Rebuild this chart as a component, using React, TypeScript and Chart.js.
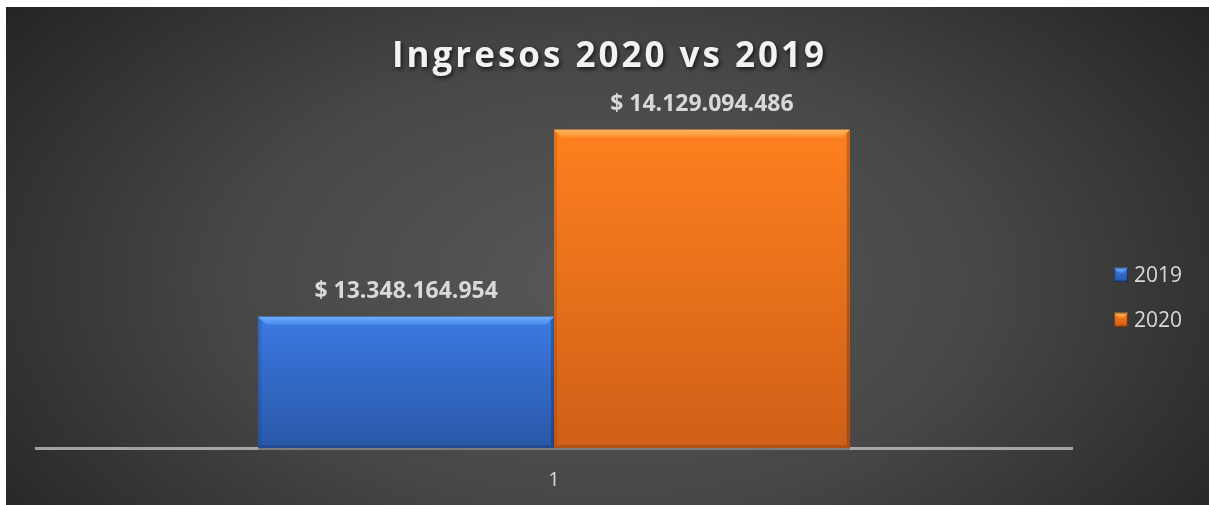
import React, { useEffect, useRef } from 'react';
import { Chart, registerables } from 'chart.js';

Chart.register(...registerables);

const categories = ['1'];
const seriesLabels = ['2019', '2020'];
const values2019 = [13348164954];
const values2020 = [14129094486];
const yMin = 12800000000;
const yMax = 14400000000;
const titleText = 'Ingresos 2020 vs 2019';

const FONT = '"Open Sans", "DejaVu Sans", sans-serif';

type Pal = { top: string; bottom: string; bevelTop: string; bevelBottom: string; solid: string };
const palettes: Pal[] = [
  { top: '#3b79e2', bottom: '#2a58a8', bevelTop: '#6cadfb', bevelBottom: '#4689ec', solid: '#3168c8' },
  { top: '#fe801f', bottom: '#cf5f17', bevelTop: '#ffb85c', bevelBottom: '#fe8c2c', solid: '#ea701c' },
];

function fmt(v: number): string {
  return '$ ' + Math.round(v).toString().replace(/\B(?=(\d{3})+(?!\d))/g, '.');
}

function drawBevelRect(ctx: CanvasRenderingContext2D, left: number, top: number, right: number, bottom: number, pal: Pal, b: number, side: number) {
  const w = right - left;
  const h = bottom - top;
  const g = ctx.createLinearGradient(0, top, 0, bottom);
  g.addColorStop(0, pal.top);
  g.addColorStop(1, pal.bottom);
  ctx.fillStyle = g;
  ctx.fillRect(left, top, w, h);
  ctx.fillStyle = 'rgba(0,0,0,0.10)';
  ctx.beginPath();
  ctx.moveTo(left, top);
  ctx.lineTo(left + side, top + side);
  ctx.lineTo(left + side, bottom - side);
  ctx.lineTo(left, bottom);
  ctx.closePath();
  ctx.fill();
  ctx.fillStyle = 'rgba(0,0,0,0.22)';
  ctx.beginPath();
  ctx.moveTo(right, top);
  ctx.lineTo(right - side, top + side);
  ctx.lineTo(right - side, bottom - side);
  ctx.lineTo(right, bottom);
  ctx.closePath();
  ctx.fill();
  ctx.fillStyle = 'rgba(0,0,0,0.14)';
  ctx.beginPath();
  ctx.moveTo(left, bottom);
  ctx.lineTo(left + side, bottom - side);
  ctx.lineTo(right - side, bottom - side);
  ctx.lineTo(right, bottom);
  ctx.closePath();
  ctx.fill();
  const gb = ctx.createLinearGradient(0, top, 0, top + b);
  gb.addColorStop(0, pal.bevelTop);
  gb.addColorStop(1, pal.bevelBottom);
  ctx.fillStyle = gb;
  ctx.beginPath();
  ctx.moveTo(left, top);
  ctx.lineTo(right, top);
  ctx.lineTo(right - b, top + b);
  ctx.lineTo(left + b, top + b);
  ctx.closePath();
  ctx.fill();
}

const backgroundPlugin = {
  id: 'bgGradient',
  beforeDraw(chart: any) {
    const { ctx, width, height } = chart;
    ctx.save();
    const cx = width * 0.5;
    const cy = height * 0.55;
    const sy = 0.6;
    ctx.translate(cx, cy);
    ctx.scale(1, sy);
    const r = width * 0.62;
    const g = ctx.createRadialGradient(0, 0, 0, 0, 0, r);
    g.addColorStop(0, '#585858');
    g.addColorStop(0.5, '#474747');
    g.addColorStop(1, '#252525');
    ctx.fillStyle = g;
    ctx.fillRect(-cx, -cy / sy, width, height / sy);
    ctx.restore();
  },
};

const barStylePlugin = {
  id: 'barStyle',
  afterDatasetsDraw(chart: any) {
    const { ctx, chartArea } = chart;
    ctx.save();
    chart.data.datasets.forEach((ds: any, di: number) => {
      const meta = chart.getDatasetMeta(di);
      const pal = palettes[di % palettes.length];
      meta.data.forEach((el: any) => {
        const { x, y, base, width } = el.getProps(['x', 'y', 'base', 'width'], true);
        const left = x - width / 2;
        const right = x + width / 2;
        const bottom = Math.min(base, chartArea.bottom);
        ctx.fillStyle = 'rgba(0,0,0,0.25)';
        ctx.fillRect(left, bottom, right - left, 2);
        drawBevelRect(ctx, left, y, right, bottom, pal, 8, 3);
      });
    });
    ctx.font = `bold 23px ${FONT}`;
    ctx.fillStyle = '#d9d9d9';
    ctx.textAlign = 'center';
    ctx.textBaseline = 'alphabetic';
    chart.data.datasets.forEach((ds: any, di: number) => {
      const meta = chart.getDatasetMeta(di);
      meta.data.forEach((el: any, i: number) => {
        const { x, y } = el.getProps(['x', 'y'], true);
        ctx.fillText(fmt(ds.data[i]), x, y - 19);
      });
    });
    ctx.restore();
  },
};

const titleLegendPlugin = {
  id: 'titleLegend',
  afterDraw(chart: any) {
    const { ctx, width, height, chartArea } = chart;
    ctx.save();
    ctx.font = `bold 35px ${FONT}`;
    (ctx as any).letterSpacing = '3px';
    ctx.textAlign = 'center';
    ctx.textBaseline = 'alphabetic';
    ctx.shadowColor = 'rgba(0,0,0,0.7)';
    ctx.shadowBlur = 4;
    ctx.shadowOffsetX = 1.5;
    ctx.shadowOffsetY = 2;
    ctx.fillStyle = '#f2f2f2';
    ctx.fillText(titleText, width / 2 + 2, 60);
    ctx.restore();

    ctx.save();
    const lx = chartArea.right + 42;
    const centerY = height * 0.583;
    const gap = 45;
    const n = chart.data.datasets.length;
    chart.data.datasets.forEach((ds: any, i: number) => {
      const cy = centerY - ((n - 1) * gap) / 2 + i * gap;
      const pal = palettes[i % palettes.length];
      drawBevelRect(ctx, lx, cy - 7, lx + 14, cy + 7, pal, 5, 1.5);
      ctx.strokeStyle = 'rgba(0,0,0,0.35)';
      ctx.lineWidth = 1;
      ctx.strokeRect(lx + 0.5, cy - 6.5, 13, 13);
      ctx.font = `21px ${FONT}`;
      ctx.fillStyle = '#d9d9d9';
      ctx.textAlign = 'left';
      ctx.textBaseline = 'middle';
      ctx.fillText(ds.label, lx + 20, cy + 1);
    });
    ctx.restore();
  },
};

export default function App() {
  const ref = useRef<HTMLCanvasElement>(null);
  useEffect(() => {
    const canvas = ref.current;
    if (!canvas) return;
    const chart = new Chart(canvas, {
      type: 'bar',
      data: {
        labels: categories,
        datasets: [
          { label: seriesLabels[0], data: values2019, base: yMin, backgroundColor: palettes[0].solid, borderWidth: 0 } as any,
          { label: seriesLabels[1], data: values2020, base: yMin, backgroundColor: palettes[1].solid, borderWidth: 0 } as any,
        ],
      },
      options: {
        animation: false,
        responsive: false,
        maintainAspectRatio: false,
        layout: { padding: { left: 30, right: 137, top: 58, bottom: 0 } },
        datasets: { bar: { categoryPercentage: 0.571, barPercentage: 1 } },
        scales: {
          x: {
            z: 1,
            grid: { display: false, drawTicks: false },
            border: { display: true, color: 'rgba(200,200,200,0.75)', width: 3 },
            ticks: { color: '#d9d9d9', font: { family: FONT, size: 20 }, padding: 20 },
            afterFit: (axis: any) => {
              axis.height = 57;
            },
          },
          y: { display: false, min: yMin, max: yMax },
        },
        plugins: {
          legend: { display: false },
          title: { display: false },
          tooltip: { enabled: false },
        },
      },
      plugins: [backgroundPlugin, barStylePlugin, titleLegendPlugin],
    });
    return () => chart.destroy();
  }, []);
  return (
    <div style={{ position: 'absolute', left: 6, top: 7, width: 1203, height: 498 }}>
      <canvas ref={ref} width={1203} height={498} style={{ display: 'block', width: 1203, height: 498 }} />
    </div>
  );
}
